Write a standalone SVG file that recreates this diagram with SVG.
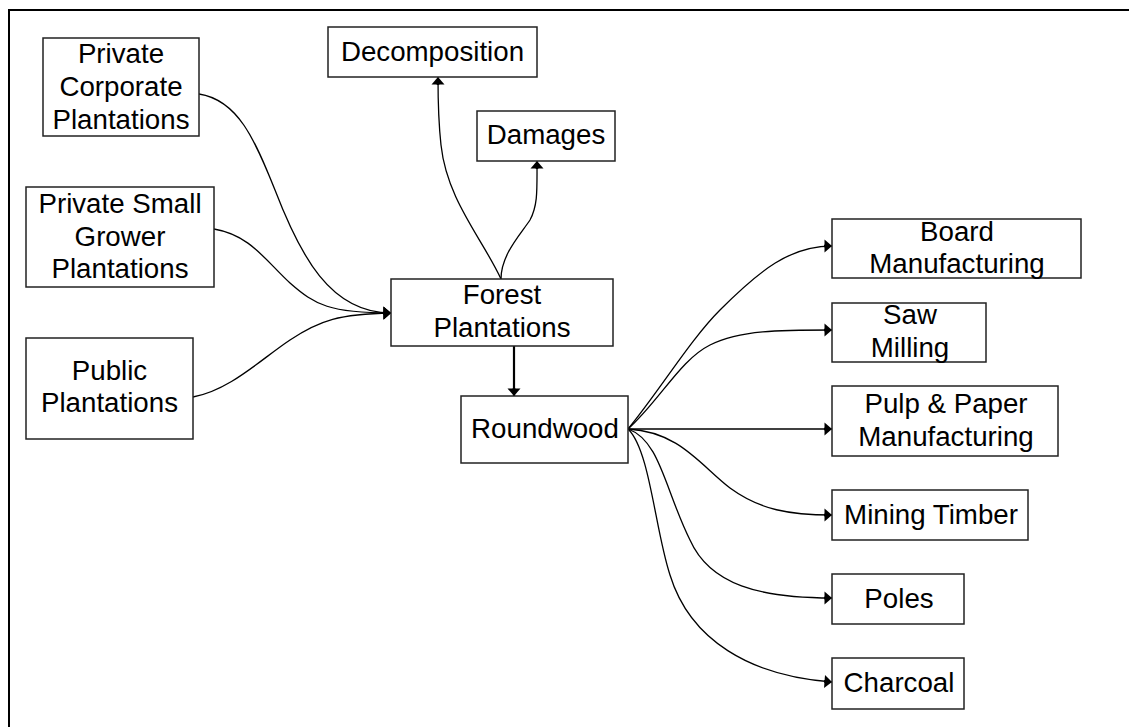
<svg xmlns="http://www.w3.org/2000/svg" width="1129" height="727" viewBox="0 0 1129 727">
  <style>
    .box { fill: #ffffff; stroke: #222222; stroke-width: 1.5; }
    .lbl { font-family: "Liberation Sans", Arial, sans-serif; font-size: 27.7px; fill: #000000; text-anchor: middle; }
    .con { fill: none; stroke: #000000; stroke-width: 1.3; }
    .thick { stroke-width: 2.2; }
    .frame { fill: none; stroke: #000000; stroke-width: 2; }
  </style>
  <defs>
    <marker id="arrow" markerUnits="userSpaceOnUse" markerWidth="20" markerHeight="16" viewBox="-9 -8 18 16" refX="0" refY="0" orient="auto">
      <path d="M-8,0 L-4,0" stroke="#000" stroke-width="2.6" fill="none"/>
      <path d="M-7.5,-6.5 L0,0 L-7.5,6.5 Z" fill="#000"/>
    </marker>
  </defs>

  <rect width="1129" height="727" fill="#ffffff"/>
  <!-- page frame (top and left edges) -->
  <path class="frame" d="M9,1140 L9,10 L1140,10"/>

  <!-- connectors -->
  <g id="connectors">
    <path class="con" marker-end="url(#arrow)" d="M199,94 C238,100 255,140 275,190 C300,255 330,313 391,313"/>
    <path class="con" marker-end="url(#arrow)" d="M214,229 C250,235 265,260 290,283 C315,305 330,313 391,313"/>
    <path class="con" marker-end="url(#arrow)" d="M193,397 C230,390 260,360 290,340 C320,320 340,314 391,313"/>
    <path class="con" marker-end="url(#arrow)" d="M501,279 C482,238 447,200 441,145 C438,118 438,95 438,77"/>
    <path class="con" marker-end="url(#arrow)" d="M501,279 C501,255 520,235 530,220 C538,205 537,190 537,161"/>
    <path class="con thick" marker-end="url(#arrow)" d="M514,346 L514,396"/>
    <path class="con" marker-end="url(#arrow)" d="M628,429 C660,390 690,340 720,310 C760,270 790,246 832,246"/>
    <path class="con" marker-end="url(#arrow)" d="M628,429 C660,400 680,360 710,345 C740,330 780,330 832,330"/>
    <path class="con" marker-end="url(#arrow)" d="M628,429 L832,429"/>
    <path class="con" marker-end="url(#arrow)" d="M628,429 C680,432 700,465 730,488 C760,510 790,515 832,515"/>
    <path class="con" marker-end="url(#arrow)" d="M628,429 C660,440 665,490 690,540 C710,585 760,598 832,598"/>
    <path class="con" marker-end="url(#arrow)" d="M628,429 C650,450 655,530 670,575 C690,640 750,676 832,682"/>
  </g>

  <!-- sources -->
  <g id="private-corporate">
    <rect class="box" x="43" y="38" width="156" height="98"/>
    <text class="lbl" x="121" y="63">Private</text>
    <text class="lbl" x="121" y="96">Corporate</text>
    <text class="lbl" x="121" y="129">Plantations</text>
  </g>
  <g id="private-small-grower">
    <rect class="box" x="26" y="187" width="188" height="100"/>
    <text class="lbl" x="120" y="213">Private Small</text>
    <text class="lbl" x="120" y="246">Grower</text>
    <text class="lbl" x="120" y="278">Plantations</text>
  </g>
  <g id="public">
    <rect class="box" x="26" y="338" width="167" height="101"/>
    <text class="lbl" x="109.5" y="380">Public</text>
    <text class="lbl" x="109.5" y="412">Plantations</text>
  </g>

  <!-- losses -->
  <g id="decomposition">
    <rect class="box" x="328" y="27" width="209" height="50"/>
    <text class="lbl" x="432.5" y="61">Decomposition</text>
  </g>
  <g id="damages">
    <rect class="box" x="477" y="111" width="138" height="50"/>
    <text class="lbl" x="546" y="144">Damages</text>
  </g>

  <!-- central chain -->
  <g id="forest-plantations">
    <rect class="box" x="391" y="279" width="222" height="67"/>
    <text class="lbl" x="502" y="304">Forest</text>
    <text class="lbl" x="502" y="337">Plantations</text>
  </g>
  <g id="roundwood">
    <rect class="box" x="461" y="396" width="167" height="67"/>
    <text class="lbl" x="545" y="438">Roundwood</text>
  </g>

  <!-- end uses -->
  <g id="board-manufacturing">
    <rect class="box" x="832" y="219" width="249" height="59"/>
    <text class="lbl" x="957" y="241">Board</text>
    <text class="lbl" x="957" y="273">Manufacturing</text>
  </g>
  <g id="saw-milling">
    <rect class="box" x="832" y="303" width="154" height="59"/>
    <text class="lbl" x="910" y="324">Saw</text>
    <text class="lbl" x="910" y="357">Milling</text>
  </g>
  <g id="pulp-paper">
    <rect class="box" x="832" y="386" width="226" height="70"/>
    <text class="lbl" x="946" y="413">Pulp &amp; Paper</text>
    <text class="lbl" x="946" y="446">Manufacturing</text>
  </g>
  <g id="mining-timber">
    <rect class="box" x="832" y="490" width="196" height="50"/>
    <text class="lbl" x="931" y="524">Mining Timber</text>
  </g>
  <g id="poles">
    <rect class="box" x="832" y="574" width="132" height="50"/>
    <text class="lbl" x="899" y="608">Poles</text>
  </g>
  <g id="charcoal">
    <rect class="box" x="832" y="658" width="132" height="51"/>
    <text class="lbl" x="899" y="692">Charcoal</text>
  </g>
</svg>
